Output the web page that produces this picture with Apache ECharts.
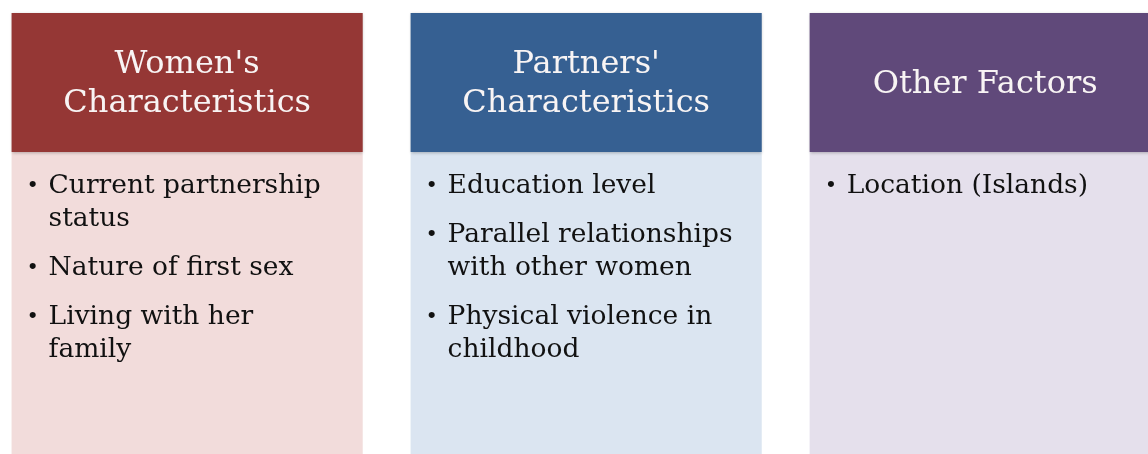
<!DOCTYPE html>
<html>
<head>
<meta charset="utf-8">
<script src="https://cdn.jsdelivr.net/npm/echarts@6/dist/echarts.min.js"></script>
<style>
  html, body { margin: 0; padding: 0; background: #fff; }
  #chart { width: 1148px; height: 454px; }
</style>
</head>
<body>
<div id="chart"></div>
<script>
// box titles and bullet items (line breaks as in the picture)
const titles = ["Women's\nCharacteristics", "Partners'\nCharacteristics", 'Other Factors'];
const womenItems = [['Current partnership', 'status'], ['Nature of first sex'], ['Living with her', 'family']];
const partnerItems = [['Education level'], ['Parallel relationships', 'with other women'], ['Physical violence in', 'childhood']];
const otherItems = [['Location (Islands)']];
const headColors = ['#953735', '#366092', '#60497A'];
const bodyColors = ['#F2DCDB', '#DBE5F1', '#E5E0EC'];

const allItems = [womenItems, partnerItems, otherItems];
const serif = 'DejaVu Serif';

const chart = echarts.init(document.getElementById('chart'));

function renderBox(params, api) {
  const i = api.value(0);
  const cx = api.coord([i, 0])[0];
  const band = api.size([1, 0])[0];
  const w = band * 0.88;
  const x0 = cx - w / 2;
  const top = api.coord([i, 1])[1];
  const bottom = api.coord([i, 0])[1];
  const headH = 139;
  const lineH = 33;

  const children = [
    { type: 'rect', shape: { x: x0, y: top + headH, width: w, height: bottom - top - headH + 20 },
      style: { fill: bodyColors[i] } },
    { type: 'rect', shape: { x: x0, y: top, width: w, height: headH },
      style: { fill: headColors[i], shadowBlur: 3, shadowColor: 'rgba(0,0,0,0.25)', shadowOffsetY: 1 } },
    { type: 'text', x: cx, y: top + headH / 2 + 2,
      style: { text: titles[i], fill: '#f8f4f4', fontFamily: serif, fontSize: 32, align: 'center',
               verticalAlign: 'middle', lineHeight: 39 } }
  ];

  let y = top + headH + 18;
  allItems[i].forEach(lines => {
    children.push({ type: 'text', x: x0 + 15, y: y,
      style: { text: '•', fill: '#111', fontFamily: serif, fontSize: 21, verticalAlign: 'top', lineHeight: lineH } });
    children.push({ type: 'text', x: x0 + 37, y: y,
      style: { text: lines.join('\n'), fill: '#111', fontFamily: serif, fontSize: 26.5,
               verticalAlign: 'top', lineHeight: lineH } });
    y += lines.length * lineH + 16;
  });

  return { type: 'group', children: children };
}

chart.setOption({
  animation: false,
  grid: { left: 0, right: 0, top: 13, bottom: 0 },
  xAxis: { type: 'value', min: -0.469, max: 2.408, show: false },
  yAxis: { type: 'value', min: 0, max: 1, show: false },
  series: [{
    type: 'custom',
    renderItem: renderBox,
    clip: false,
    data: [[0], [1], [2]]
  }]
});
</script>
</body>
</html>
